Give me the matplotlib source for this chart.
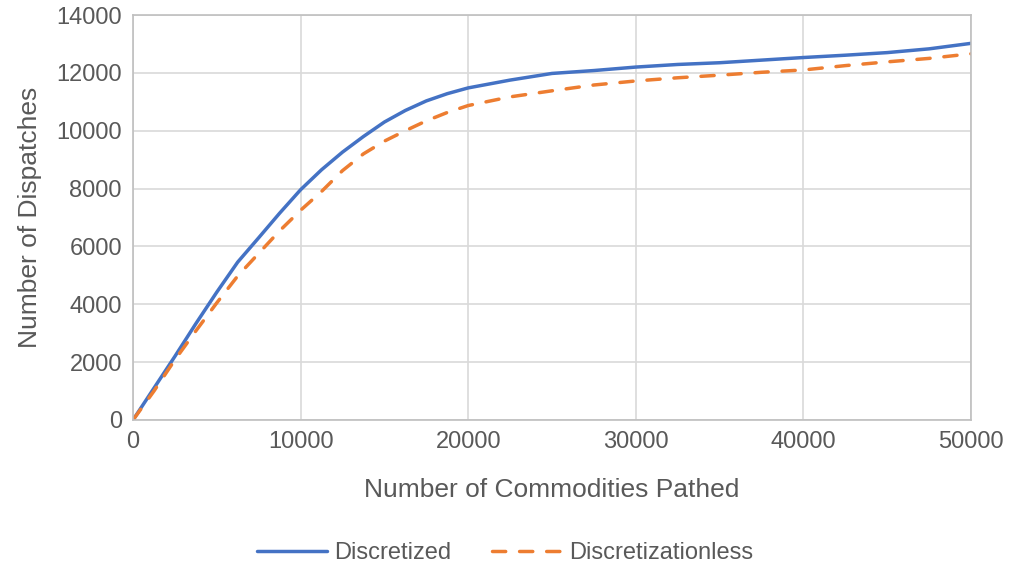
import matplotlib
matplotlib.use("Agg")
import matplotlib.pyplot as plt

x_vals = [0, 1250, 2500, 3750, 5000, 6250, 7500, 8750, 10000, 11250, 12500, 13750, 15000,
          16250, 17500, 18750, 20000, 22500, 25000, 27500, 30000, 32500, 35000, 37500,
          40000, 42500, 45000, 47500, 50000]
discretized = [0, 1100, 2200, 3330, 4420, 5460, 6300, 7150, 7960, 8650, 9260, 9800, 10300,
               10700, 11030, 11280, 11480, 11750, 11980, 12080, 12200, 12290, 12350, 12440,
               12530, 12610, 12700, 12830, 13020]
discretizationless = [0, 1000, 2080, 3080, 4050, 4980, 5760, 6540, 7250, 7900, 8620, 9200, 9640,
                      10000, 10340, 10630, 10870, 11170, 11380, 11580, 11720, 11830, 11920, 12020,
                      12100, 12250, 12380, 12500, 12660]

x_ticks = [0, 10000, 20000, 30000, 40000, 50000]
y_ticks = [0, 2000, 4000, 6000, 8000, 10000, 12000, 14000]

plt.rcParams['font.family'] = ['Liberation Sans', 'DejaVu Sans']
txt = '#595959'

fig = plt.figure(figsize=(10.1, 5.71), dpi=100)
ax = fig.add_axes([133/1010, 1-420/571, (971-133)/1010, (420-15)/571])

ax.plot(x_vals, discretized, color='#4472C4', lw=2.5, label='Discretized',
        solid_capstyle='round', solid_joinstyle='round')
ax.plot(x_vals, discretizationless, color='#ED7D31', lw=2.5, ls=(0, (3.8, 4.0)),
        dash_capstyle='round', label='Discretizationless')

ax.set_xlim(0, 50000)
ax.set_ylim(0, 14000)
ax.set_xticks(x_ticks)
ax.set_yticks(y_ticks)
ax.set_xticklabels([str(t) for t in x_ticks])
ax.set_yticklabels([str(t) for t in y_ticks])
ax.tick_params(length=0, labelsize=17, colors=txt, pad=8)
ax.grid(True, color='#D9D9D9', lw=1.2)
ax.set_axisbelow(True)
for s in ax.spines.values():
    s.set_color('#BFBFBF')
    s.set_linewidth(1.2)

ax.set_xlabel('Number of Commodities Pathed', fontsize=19, color=txt, labelpad=18)
ax.set_ylabel('Number of Dispatches', fontsize=19, color=txt, labelpad=10)

fig.legend(loc='center', bbox_to_anchor=(0.5, 1-553/571), ncol=2, frameon=False,
           fontsize=17, labelcolor=txt, handlelength=2.96, columnspacing=1.74,
           handletextpad=0.3)

fig.savefig('out.png', dpi=100)
